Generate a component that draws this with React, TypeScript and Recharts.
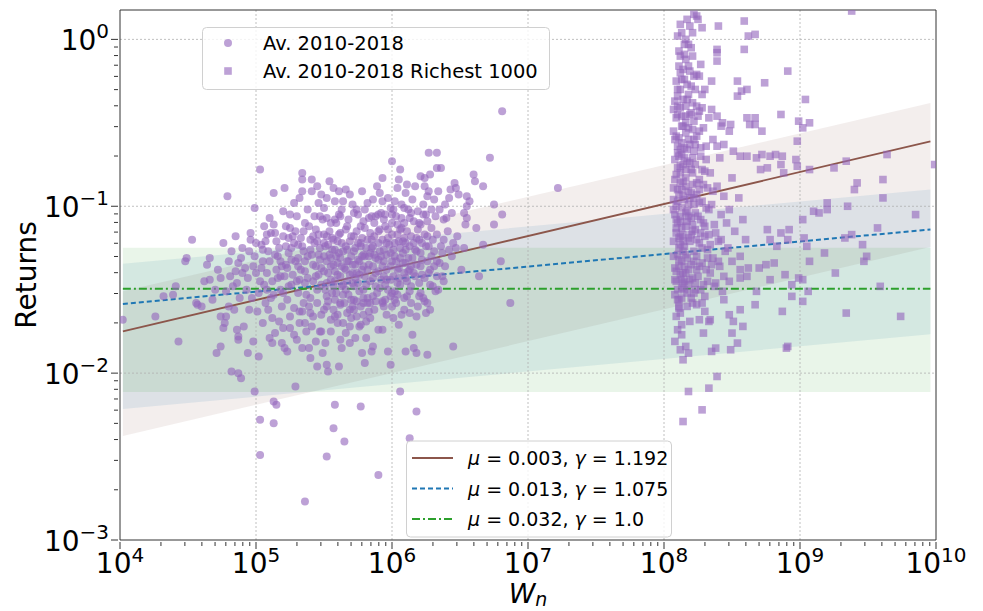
import React from "react";
import {
  ComposedChart,
  XAxis,
  YAxis,
  Scatter,
  Line,
  Area,
  ReferenceLine,
} from "recharts";

// log10(W), log10(return)
const circleLog: [number, number][] = [
  [5.03, -0.78], [4.79, -0.94], [4.99, -1.01], [5.13, -0.92], [5.21, -0.89], [5.34, -0.8], [5.34, -0.84], [5.41, -0.84],
  [5.34, -0.91], [5.41, -0.91], [5.28, -0.98], [5.2, -1.03], [5.1, -1.07], [4.53, -1.2], [4.85, -1.18], [4.76, -1.22],
  [4.96, -1.2], [4.49, -1.31], [4.48, -1.33], [4.66, -1.31], [4.64, -1.35], [4.8, -1.33], [4.87, -1.34], [4.9, -1.25],
  [4.99, -1.3], [5.04, -1.23], [5.05, -1.26], [5.08, -1.17], [5.14, -1.16], [5.13, -1.11], [5.25, -1.13], [5.3, -1.06],
  [5.36, -1.1], [4.66, -1.44], [4.74, -1.43], [4.81, -1.42], [4.85, -1.39], [4.41, -1.48], [4.32, -1.54], [4.39, -1.53],
  [4.56, -1.58], [4.94, -1.43], [4.98, -1.36], [5.03, -1.45], [5.08, -1.4],
  [4.02, -1.68], [4.26, -1.66], [4.43, -1.81], [4.57, -1.59], [4.6, -1.6], [4.74, -1.66], [4.78, -1.66], [4.77, -1.7],
  [4.76, -1.73], [4.86, -1.74], [4.87, -1.78], [4.87, -1.8], [4.74, -1.84], [4.71, -1.88], [4.94, -1.88], [4.98, -1.81],
  [5.02, -1.9], [4.82, -1.99], [4.87, -2.0], [4.89, -2.03], [4.99, -2.11], [5.29, -2.08], [5.13, -2.17], [5.15, -2.19],
  [5.03, -2.28], [5.13, -2.3], [5.03, -2.49], [5.36, -2.77], [5.05, -1.7], [5.12, -1.67], [5.14, -1.76], [5.1, -1.79],
  [5.12, -1.82], [5.19, -1.82], [5.21, -1.85], [5.23, -1.87], [5.2, -1.73], [5.25, -1.73], [5.32, -1.7], [5.3, -1.8],
  [5.34, -1.85], [5.39, -1.85], [5.4, -1.91], [5.45, -1.96], [5.36, -1.7], [5.42, -1.66], [5.47, -1.75],
  [6.81, -0.43], [6.27, -0.68], [6.33, -0.68], [6.72, -0.71], [6.0, -0.73], [6.06, -0.78], [5.93, -0.83], [5.54, -0.85],
  [6.05, -0.84], [6.21, -0.82], [6.24, -0.83], [6.28, -0.81], [6.33, -0.77], [6.36, -0.77], [6.6, -0.81], [6.61, -0.85],
  [6.67, -0.88], [6.46, -0.86], [6.43, -0.9], [6.47, -0.89], [5.57, -0.89], [5.61, -0.91], [5.66, -0.9], [5.91, -0.92],
  [5.93, -0.97], [6.04, -0.89], [6.1, -0.92], [6.17, -0.88], [6.24, -0.88], [6.27, -0.91], [6.26, -0.94], [6.31, -0.96],
  [6.42, -0.95], [6.55, -0.94], [6.57, -0.97], [6.75, -0.99], [6.81, -1.05], [6.75, -1.11], [5.86, -0.96], [5.5, -1.01],
  [5.64, -0.97], [6.55, -1.0], [6.53, -1.04], [6.55, -1.07], [6.54, -1.11], [6.62, -1.13], [6.53, -1.25], [6.67, -1.23],
  [6.8, -1.33], [6.64, -1.42], [6.87, -1.58], [7.22, -0.89],
  [6.37, -1.42], [6.38, -1.45], [6.28, -1.47], [6.32, -1.51], [6.23, -1.55], [6.26, -1.58], [6.13, -1.51], [6.11, -1.54],
  [6.04, -1.53], [5.99, -1.54], [6.21, -1.52], [5.93, -1.57], [6.21, -1.11], [6.26, -1.09], [6.32, -1.06], [6.38, -1.08],
  [6.4, -1.07], [6.13, -1.07], [6.12, -1.02], [6.09, -1.01], [6.01, -1.02], [6.0, -1.1], [6.04, -1.11], [6.09, -1.1],
  [5.99, -1.01], [5.8, -1.02], [5.88, -1.06], [5.94, -1.08], [5.95, -1.12], [5.91, -1.14], [5.72, -1.04], [5.62, -1.06],
  [5.58, -1.08], [5.52, -1.07], [6.18, -1.19], [6.26, -1.18], [6.33, -1.17], [6.38, -1.2], [6.45, -1.22], [6.47, -1.25],
  [6.42, -1.26], [6.37, -1.28], [6.29, -1.3], [6.21, -1.28], [6.17, -1.26], [6.26, -1.33], [6.35, -1.34], [6.31, -1.36],
  [6.21, -1.36], [6.13, -1.38], [6.1, -1.34], [6.06, -1.31], [6.33, -1.42], [5.96, -1.22], [6.01, -1.26], [6.06, -1.25],
  [6.09, -1.19], [6.1, -1.22], [6.04, -1.17], [5.86, -1.24], [5.77, -1.22], [5.83, -1.3], [5.9, -1.32], [5.79, -1.36],
  [5.74, -1.4], [5.67, -1.26], [5.59, -1.3], [5.55, -1.36], [5.62, -1.42], [5.71, -1.46], [5.79, -1.5], [5.86, -1.54],
  [5.72, -1.56], [5.62, -1.58], [5.52, -1.54], [5.57, -1.48], [5.96, -1.38], [5.99, -1.44], [5.94, -1.42], [6.04, -1.46],
  [6.09, -1.4], [5.67, -1.12], [5.72, -1.18], [5.62, -1.16], [5.57, -1.2], [5.52, -1.18], [5.5, -1.22], [5.77, -1.12],
  [5.84, -1.16],
  [6.03, -1.58], [6.24, -1.57], [6.25, -1.64], [6.13, -1.64], [6.07, -1.65], [6.01, -1.67], [5.93, -1.58], [5.94, -1.6],
  [6.15, -1.77], [5.93, -1.74], [5.81, -1.79], [5.86, -1.84], [5.85, -1.87], [5.97, -1.87], [6.1, -1.87], [6.18, -1.88],
  [6.26, -1.89], [6.16, -1.85], [5.78, -1.88], [5.69, -1.82], [5.62, -1.8], [5.8, -1.94], [5.99, -1.95], [5.61, -1.96],
  [5.53, -1.99], [5.52, -1.95], [5.49, -1.88], [5.48, -1.75], [6.45, -1.84], [6.06, -2.11], [5.58, -2.19], [5.77, -2.2],
  [6.18, -2.23], [5.57, -2.33], [5.65, -2.41], [5.52, -2.5], [5.9, -2.61], [6.13, -2.39],
  [5.52, -1.6], [5.57, -1.62], [5.62, -1.59], [5.67, -1.64], [5.72, -1.62], [5.77, -1.6], [5.82, -1.58], [5.55, -1.68],
  [5.6, -1.7], [5.64, -1.7], [5.69, -1.72], [5.74, -1.66], [5.79, -1.65], [5.84, -1.67], [5.77, -1.71],
  [5.22, -1.12], [5.27, -1.18], [5.31, -1.23], [5.35, -1.15], [5.4, -1.2], [5.44, -1.14], [5.47, -1.25], [5.24, -1.28],
  [5.29, -1.33], [5.33, -1.38], [5.38, -1.3], [5.42, -1.35], [5.46, -1.41], [5.21, -1.42], [5.26, -1.47], [5.31, -1.52],
  [5.36, -1.46], [5.4, -1.55], [5.45, -1.5], [5.23, -1.56], [5.28, -1.61], [5.34, -1.63], [5.39, -1.6], [5.18, -1.5],
  [5.15, -1.38], [5.12, -1.45], [5.17, -1.25], [5.19, -1.6], [5.11, -1.55], [5.08, -1.5],
  [5.5, -1.3], [5.53, -1.4], [5.56, -1.26], [5.58, -1.45], [5.6, -1.34], [5.63, -1.22], [5.64, -1.47], [5.66, -1.38],
  [5.68, -1.53], [5.7, -1.3], [5.73, -1.25], [5.75, -1.46], [5.76, -1.33], [5.78, -1.19], [5.8, -1.42], [5.82, -1.55],
  [5.84, -1.28], [5.86, -1.36], [5.88, -1.48], [5.9, -1.22], [5.51, -1.5], [5.54, -1.15], [5.59, -1.1], [5.65, -1.58],
  [5.69, -1.62], [5.71, -1.4], [5.74, -1.57], [5.79, -1.29], [5.83, -1.63], [5.87, -1.1],
  [5.92, -1.3], [5.95, -1.47], [5.97, -1.14], [6.0, -1.33], [6.02, -1.51], [6.05, -1.37], [6.08, -1.28], [6.11, -1.45],
  [6.14, -1.18], [6.16, -1.4], [6.19, -1.6], [6.22, -1.22], [6.24, -1.43], [6.28, -1.38], [6.3, -1.2], [6.34, -1.5],
  [5.0, -1.4], [5.02, -1.52], [5.05, -1.33], [5.07, -1.58], [5.09, -1.27], [4.93, -1.5], [4.95, -1.62], [4.9, -1.4],
  [4.88, -1.55], [4.83, -1.48], [4.8, -1.6], [4.7, -1.5], [4.62, -1.45], [4.68, -1.56],
  [5.25, -1.05], [5.32, -0.95], [5.38, -1.02], [5.43, -1.06], [5.46, -0.98], [5.48, -0.93],
  // dense core
  [5.15, -1.21], [5.18, -1.33], [5.2, -1.18], [5.23, -1.37], [5.26, -1.25], [5.27, -1.41], [5.29, -1.15], [5.31, -1.31],
  [5.32, -1.44], [5.33, -1.19], [5.35, -1.27], [5.36, -1.39], [5.37, -1.53], [5.39, -1.12], [5.41, -1.29], [5.42, -1.45],
  [5.43, -1.22], [5.44, -1.36], [5.45, -1.58], [5.46, -1.17], [5.47, -1.32], [5.48, -1.47], [5.49, -1.08], [5.5, -1.39],
  [5.51, -1.24], [5.52, -1.33], [5.53, -1.57], [5.54, -1.29], [5.55, -1.44], [5.56, -1.19], [5.57, -1.35], [5.58, -1.26],
  [5.59, -1.52], [5.6, -1.41], [5.61, -1.17], [5.62, -1.31], [5.63, -1.48], [5.64, -1.27], [5.65, -1.37], [5.66, -1.14],
  [5.67, -1.45], [5.68, -1.33], [5.69, -1.21], [5.7, -1.56], [5.71, -1.35], [5.72, -1.27], [5.73, -1.43], [5.74, -1.15],
  [5.75, -1.32], [5.76, -1.51], [5.77, -1.24], [5.78, -1.38], [5.79, -1.09], [5.8, -1.3], [5.81, -1.47], [5.82, -1.2],
  [5.83, -1.35], [5.84, -1.58], [5.85, -1.25], [5.86, -1.43], [5.87, -1.18], [5.88, -1.31], [5.89, -1.52], [5.9, -1.39],
  [5.91, -1.27], [5.92, -1.44], [5.93, -1.2], [5.94, -1.33], [5.95, -1.05], [5.96, -1.29], [5.97, -1.5], [5.98, -1.23],
  [5.99, -1.36], [6.0, -1.17], [6.01, -1.42], [6.02, -1.3], [6.03, -1.06], [6.04, -1.38], [6.05, -1.21], [6.06, -1.47],
  [6.07, -1.13], [6.08, -1.34], [6.09, -1.55], [6.1, -1.26], [6.11, -1.15], [6.12, -1.39], [6.13, -1.24], [6.14, -1.48],
  [6.15, -1.31], [6.16, -1.09], [6.17, -1.42], [6.18, -1.27], [6.19, -1.14], [6.2, -1.46], [6.22, -1.32], [6.23, -1.05],
  [6.25, -1.24], [6.27, -1.4], [6.29, -1.13], [6.31, -1.27], [6.33, -1.33], [6.35, -1.02], [6.36, -1.24], [6.39, -1.36],
  [6.41, -1.15], [6.44, -1.3], [6.48, -1.18], [6.51, -1.38],
  [5.45, -0.88], [5.52, -0.95], [5.58, -0.97], [5.63, -1.02], [5.69, -0.93], [5.71, -0.99], [5.75, -1.05], [5.78, -0.91],
  [5.82, -0.98], [5.85, -1.06], [5.89, -0.88], [5.92, -1.04], [5.97, -0.95], [6.02, -0.97], [6.07, -0.99], [6.11, -0.87],
  [6.15, -0.96], [6.19, -1.03], [6.23, -0.99], [6.29, -1.02], [6.34, -0.91], [6.39, -0.99], [6.44, -1.04], [6.49, -0.93],
  [5.25, -1.66], [5.28, -1.77], [5.32, -1.63], [5.37, -1.75], [5.41, -1.72], [5.44, -1.81], [5.48, -1.65], [5.51, -1.82],
  [5.55, -1.75], [5.58, -1.66], [5.63, -1.85], [5.66, -1.76], [5.7, -1.67], [5.73, -1.79], [5.76, -1.72], [5.81, -1.69],
  [5.87, -1.62], [5.9, -1.74], [5.96, -1.65], [6.0, -1.6], [6.05, -1.71], [6.09, -1.62], [6.14, -1.58], [6.18, -1.66],
  [6.2, -1.54], [6.28, -1.62], [6.3, -1.48],
  [4.82, -1.27], [4.86, -1.46], [4.89, -1.31], [4.92, -1.37], [4.95, -1.27], [4.97, -1.55], [5.0, -1.22], [5.01, -1.63],
  [5.04, -1.37], [5.06, -1.47], [5.07, -1.21], [5.09, -1.62], [5.1, -1.33], [5.11, -1.16], [5.13, -1.53], [5.14, -1.29],
  [5.16, -1.43], [5.17, -1.69], [5.19, -1.36], [5.2, -1.52], [5.22, -1.24], [5.24, -1.48], [4.72, -1.38], [4.78, -1.51],
  [4.84, -1.62], [4.91, -1.72], [4.96, -1.16], [5.06, -1.12],
  [5.31, -1.36], [5.34, -1.24], [5.36, -1.33], [5.38, -1.43], [5.4, -1.26], [5.42, -1.18], [5.44, -1.42], [5.46, -1.29],
  [5.48, -1.37], [5.5, -1.17], [5.52, -1.46], [5.53, -1.23], [5.55, -1.31], [5.56, -1.52], [5.58, -1.39], [5.6, -1.21],
  [5.61, -1.28], [5.63, -1.36], [5.64, -1.53], [5.66, -1.24], [5.67, -1.33], [5.69, -1.41], [5.7, -1.18], [5.72, -1.48],
  [5.73, -1.35], [5.75, -1.22], [5.76, -1.41], [5.78, -1.3], [5.79, -1.55], [5.81, -1.25], [5.82, -1.38], [5.84, -1.45],
  [5.85, -1.2], [5.87, -1.29], [5.88, -1.4], [5.9, -1.15], [5.91, -1.49], [5.93, -1.36], [5.94, -1.26], [5.96, -1.44],
  [5.97, -1.19], [5.99, -1.28], [6.0, -1.52], [6.02, -1.22], [6.03, -1.33], [6.05, -1.43], [6.06, -1.14], [6.08, -1.21],
  [6.1, -1.43], [6.12, -1.31], [6.14, -1.36], [6.16, -1.22], [6.18, -1.35], [6.2, -1.2], [6.22, -1.41], [6.24, -1.17],
  [6.27, -1.24], [5.26, -1.32], [5.28, -1.22], [5.3, -1.45], [5.22, -1.35], [5.24, -1.19], [5.18, -1.42], [5.16, -1.3],
  [5.45, -1.21], [5.47, -1.06], [5.55, -1.1], [5.61, -1.05], [5.68, -1.08], [5.74, -1.02], [5.8, -1.13], [5.83, -1.07],
  [5.9, -1.05], [6.0, -1.05], [6.07, -1.07], [6.14, -1.04], [6.2, -1.1], [6.25, -1.05], [5.5, -1.62], [5.58, -1.56],
  [5.66, -1.5], [5.71, -1.6], [5.79, -1.58], [5.88, -1.57], [5.95, -1.56], [6.02, -1.56], [5.6, -1.65], [5.4, -1.64],
  [5.35, -1.58],
];

const squareLog: [number, number][] = [
  [8.22, 0.15], [8.24, 0.14], [9.38, 0.17], [8.12, 0.09], [8.17, 0.12], [8.21, 0.04], [8.13, 0.04], [8.28, 0.07],
  [8.25, 0.12], [8.4, 0.08], [8.59, 0.11], [8.62, 0.02], [8.67, 0.03], [8.15, -0.03], [8.18, -0.03], [8.15, -0.09],
  [8.21, -0.1], [8.39, -0.06], [8.39, -0.08], [8.39, -0.13], [8.59, -0.06], [8.12, -0.1], [8.18, -0.16], [8.27, -0.15],
  [8.11, -0.16], [8.19, -0.19], [8.13, -0.24], [8.22, -0.22], [8.24, -0.21], [8.35, -0.25], [8.3, -0.3], [8.28, -0.33],
  [8.54, -0.25], [8.57, -0.31], [8.61, -0.3], [8.54, -0.34], [8.74, -0.26], [8.91, -0.19], [9.04, -0.36], [8.1, -0.34],
  [8.1, -0.4], [8.16, -0.4], [8.19, -0.45], [8.13, -0.46], [8.28, -0.41], [8.35, -0.42], [8.26, -0.43], [8.33, -0.47],
  [8.43, -0.5], [8.42, -0.52], [8.49, -0.51], [8.48, -0.55], [8.39, -0.46], [8.61, -0.47], [8.67, -0.47], [8.63, -0.51],
  [8.67, -0.51], [8.72, -0.55], [8.86, -0.45], [8.99, -0.49], [9.07, -0.5], [9.02, -0.53], [8.98, -0.61],
  [8.39, -0.64], [8.44, -0.63], [8.51, -0.67], [8.56, -0.7], [8.61, -0.7], [8.68, -0.71], [8.72, -0.69], [8.78, -0.7],
  [8.82, -0.69], [8.87, -0.7], [8.71, -0.78], [8.76, -0.77], [8.86, -0.75], [8.88, -0.8], [8.97, -0.72], [8.98, -0.76],
  [9.07, -0.78], [9.25, -0.77], [9.34, -0.73], [9.64, -0.69], [9.61, -0.84], [9.61, -0.95], [9.42, -0.86], [9.4, -0.9],
  [9.2, -0.98], [9.35, -1.0], [9.85, -1.05], [9.57, -1.13], [9.38, -1.17], [9.33, -1.19], [9.46, -1.23], [9.99, -0.75],
  [9.1, -1.03], [9.14, -1.04], [9.2, -1.02], [9.02, -1.08], [8.92, -1.14], [8.86, -1.16], [8.76, -1.14], [8.78, -1.2],
  [8.83, -1.24], [8.91, -1.2], [9.03, -1.19], [9.05, -1.24],
  [9.07, -1.33], [9.47, -1.33], [9.49, -1.3], [9.26, -1.4], [9.18, -1.28], [8.89, -1.41], [8.94, -1.47], [9.02, -1.44],
  [8.99, -1.43], [9.06, -1.51], [9.02, -1.57], [8.94, -1.54], [8.87, -1.63], [8.68, -1.51], [8.67, -1.59], [9.34, -1.64],
  [9.59, -1.48], [9.74, -1.66], [8.78, -1.44], [8.81, -1.34], [8.75, -1.35], [8.7, -1.37], [8.62, -1.37], [8.56, -1.38],
  [8.61, -1.42], [8.56, -1.43], [8.48, -1.45], [8.44, -1.56], [8.48, -1.65], [8.56, -1.62], [8.51, -1.69], [8.58, -1.72],
  [8.5, -1.76], [8.54, -1.82], [8.49, -1.86], [8.38, -1.85], [8.35, -1.87], [8.29, -1.76], [8.34, -1.68], [8.33, -1.69],
  [8.26, -1.68], [8.19, -1.69], [8.13, -1.71], [8.13, -1.77], [8.12, -1.86], [8.16, -1.84], [8.18, -1.88], [8.14, -1.92],
  [8.91, -1.84], [8.9, -1.85], [8.39, -2.02], [8.33, -2.09], [8.18, -2.11], [8.28, -2.22], [8.14, -2.29], [8.3, -1.63],
  [8.24, -1.59], [8.28, -1.58], [8.22, -1.52], [8.11, -1.56], [8.11, -1.6], [8.12, -1.64],
  // dense column just above 10^8
  [8.08, -0.37], [8.12, -0.41], [8.09, -0.47], [8.14, -0.52], [8.07, -0.55], [8.11, -0.59], [8.1, -0.64], [8.13, -0.69],
  [8.08, -0.72], [8.12, -0.76], [8.09, -0.81], [8.14, -0.85], [8.07, -0.89], [8.11, -0.93], [8.1, -0.97], [8.13, -1.01],
  [8.08, -1.05], [8.12, -1.09], [8.09, -1.13], [8.14, -1.17], [8.07, -1.21], [8.11, -1.25], [8.1, -1.29], [8.13, -1.33],
  [8.08, -1.37], [8.12, -1.41], [8.09, -1.45], [8.13, -1.49], [8.08, -1.53], [8.11, -1.61], [8.09, -1.66], [8.1, -1.74],
  [8.08, -1.81],
  [8.17, -0.36], [8.2, -0.44], [8.16, -0.5], [8.21, -0.54], [8.18, -0.6], [8.15, -0.65], [8.22, -0.67], [8.17, -0.73],
  [8.2, -0.78], [8.16, -0.83], [8.21, -0.87], [8.18, -0.91], [8.15, -0.96], [8.22, -0.99], [8.17, -1.03], [8.2, -1.07],
  [8.16, -1.12], [8.21, -1.15], [8.18, -1.19], [8.15, -1.24], [8.22, -1.27], [8.17, -1.31], [8.2, -1.35], [8.16, -1.4],
  [8.21, -1.43], [8.18, -1.47], [8.15, -1.5], [8.2, -1.55], [8.17, -1.6],
  [8.25, -0.46], [8.29, -0.53], [8.24, -0.58], [8.31, -0.64], [8.27, -0.7], [8.23, -0.75], [8.3, -0.79], [8.26, -0.84],
  [8.32, -0.89], [8.24, -0.93], [8.28, -0.97], [8.31, -1.01], [8.25, -1.06], [8.29, -1.1], [8.23, -1.14], [8.3, -1.18],
  [8.26, -1.22], [8.32, -1.26], [8.24, -1.3], [8.28, -1.34], [8.31, -1.38], [8.25, -1.42], [8.29, -1.47], [8.23, -1.5],
  [8.3, -1.54],
  [8.36, -0.6], [8.41, -0.71], [8.34, -0.8], [8.39, -0.88], [8.44, -0.94], [8.35, -0.99], [8.42, -1.05], [8.37, -1.11],
  [8.33, -1.17], [8.4, -1.21], [8.45, -1.27], [8.36, -1.31], [8.41, -1.36], [8.34, -1.4], [8.38, -1.46], [8.43, -1.51],
  [8.5, -0.83], [8.55, -0.95], [8.48, -1.02], [8.58, -1.08], [8.52, -1.15], [8.47, -1.25], [8.56, -1.3], [8.6, -1.2],
  [8.5, -1.33],
  [8.1, -0.45], [8.13, -0.62], [8.16, -0.78], [8.19, -0.95], [8.1, -1.1], [8.14, -1.27], [8.19, -1.44], [8.12, -0.86],
  [8.09, -1.0], [8.15, -1.36], [8.21, -0.71], [8.12, -1.18], [8.18, -1.06], [8.1, -0.68], [8.16, -0.56], [8.14, -1.46],
  [8.26, -0.9], [8.27, -1.16], [8.24, -1.38], [8.22, -0.6],
  [8.1, -0.3], [8.14, -0.36], [8.2, -0.28], [8.24, -0.4], [8.12, -0.2], [8.16, -0.12],
  [8.07, -0.42], [8.09, -0.58], [8.11, -0.7], [8.08, -0.84], [8.1, -0.9], [8.07, -1.02], [8.09, -1.16], [8.11, -1.32],
  [8.08, -1.44], [8.1, -1.56], [8.13, -0.52], [8.12, -0.8], [8.14, -0.94], [8.13, -1.13], [8.12, -1.23], [8.14, -1.4],
  [8.13, -1.55], [8.16, -0.46], [8.18, -0.53], [8.17, -0.66], [8.19, -0.74], [8.16, -0.88], [8.18, -0.99], [8.17, -1.09],
  [8.19, -1.21], [8.16, -1.29], [8.18, -1.38], [8.17, -1.52], [8.19, -0.63], [8.15, -0.71], [8.2, -0.92], [8.16, -1.04],
  [8.2, -1.17], [8.15, -1.45], [8.22, -0.49], [8.23, -0.63], [8.21, -0.8], [8.24, -0.86], [8.22, -0.95], [8.23, -1.04],
  [8.21, -1.11], [8.24, -1.2], [8.22, -1.33], [8.23, -1.46], [8.21, -1.58], [8.26, -0.55], [8.27, -0.65], [8.28, -0.78],
  [8.26, -0.98], [8.27, -1.08], [8.28, -1.25], [8.26, -1.36], [8.27, -1.5], [8.29, -0.87], [8.3, -1.12], [8.32, -1.31],
  [8.31, -0.72], [8.33, -1.02], [8.34, -1.23], [8.35, -1.35], [8.36, -0.91], [8.38, -1.16], [8.4, -1.33], [8.42, -1.2],
  [8.44, -1.42], [8.46, -1.1], [8.37, -1.48], [8.32, -1.45], [8.08, -0.6], [8.1, -0.77], [8.07, -0.96], [8.09, -1.08],
  [8.11, -1.19], [8.07, -1.3], [8.09, -1.39], [8.1, -1.5], [8.12, -0.66], [8.14, -0.75], [8.13, -0.9], [8.12, -1.06],
  [8.14, -1.21], [8.11, -1.36], [8.13, -1.44], [8.09, -0.25], [8.12, -0.3], [8.15, -0.24], [8.18, -0.33], [8.21, -0.38],
  [8.11, -0.07], [8.14, -0.18], [8.17, -0.27], [8.2, -0.05], [8.23, -0.3], [8.26, -0.22], [8.1, 0.02], [8.19, 0.08],
  [8.16, 0.0],
];

// fitted lines and bands, at both ends of the W range
const fitW = [1.05e4, 9.1e9];
const brownFit = [0.0178, 0.245];
const brownLo = [0.0042, 0.057];
const brownHi = [0.031, 0.415];
const blueFit = [0.026, 0.0726];
const blueLo = [0.0061, 0.0171];
const blueHi = [0.0452, 0.126];
const greenFit = [0.032, 0.032];
const greenLo = [0.0077, 0.0077];
const greenHi = [0.0564, 0.0564];

const xMajor = [1e4, 1e5, 1e6, 1e7, 1e8, 1e9, 1e10];
const yMajor = [1e-3, 1e-2, 1e-1, 1e0];
const minorSteps = [2, 3, 4, 5, 6, 7, 8, 9];

const PURPLE = "#9467bd";
const FONT = "'DejaVu Sans', sans-serif";

const circleRows = circleLog.map(([lw, lr]) => ({ w: 10 ** lw, r: 10 ** lr }));
const squareRows = squareLog.map(([lw, lr]) => ({ w: 10 ** lw, r: 10 ** lr }));
const fitRows = fitW.map((w, i) => ({
  w,
  brown: brownFit[i],
  blue: blueFit[i],
  green: greenFit[i],
  brownBand: [brownLo[i], brownHi[i]],
  blueBand: [blueLo[i], blueHi[i]],
  greenBand: [greenLo[i], greenHi[i]],
}));

const withMinors = (major: number[]) => {
  const out: number[] = [...major];
  major.slice(0, -1).forEach((m) => minorSteps.forEach((s) => out.push(m * s)));
  return out.sort((a, b) => a - b);
};
const xTicks = withMinors(xMajor);
const yTicks = withMinors(yMajor).filter((v) => v <= 1.5);

const isMajor = (v: number) => Math.abs(Math.log10(v) - Math.round(Math.log10(v))) < 1e-6;
const expText = (v: number) => {
  const e = Math.round(Math.log10(v));
  return e < 0 ? "\u2212" + -e : String(e);
};

function XTick(props: any) {
  const { x, y, payload } = props;
  const major = isMajor(payload.value);
  return (
    <g>
      <line x1={x} x2={x} y1={y} y2={y + (major ? 7 : 4)} stroke="#333" strokeWidth={1} />
      {major && (
        <text x={x} y={y + 31} textAnchor="middle" fontFamily={FONT} fontSize={28} fill="#000">
          <tspan>10</tspan>
          <tspan fontSize={20} dy={-11}>{expText(payload.value)}</tspan>
        </text>
      )}
    </g>
  );
}

function YTick(props: any) {
  const { x, y, payload } = props;
  const major = isMajor(payload.value);
  return (
    <g>
      <line x1={x} x2={x - (major ? 7 : 4)} y1={y} y2={y} stroke="#333" strokeWidth={1} />
      {major && (
        <text x={x - 9} y={y + 11} textAnchor="end" fontFamily={FONT} fontSize={28} fill="#000">
          <tspan>10</tspan>
          <tspan fontSize={20} dy={-12}>{expText(payload.value)}</tspan>
        </text>
      )}
    </g>
  );
}

const CircleDot = (p: any) => (
  <circle cx={p.cx} cy={p.cy} r={4} fill={PURPLE} fillOpacity={0.62} />
);
const SquareDot = (p: any) => (
  <rect x={p.cx - 3.8} y={p.cy - 3.8} width={7.6} height={7.6} fill={PURPLE} fillOpacity={0.62} />
);

const fitLegend = [
  { mu: "0.003", gamma: "1.192", color: "#8c564b", dash: undefined },
  { mu: "0.013", gamma: "1.075", color: "#1f77b4", dash: "5 3" },
  { mu: "0.032", gamma: "1.0", color: "#2ca02c", dash: "8 3 2 3" },
];

export default function App() {
  return (
    <div style={{ position: "absolute", left: 0, top: 0, width: 983, height: 611, background: "#fff" }}>
      <ComposedChart
        width={983}
        height={611}
        data={fitRows}
        margin={{ top: 10, right: 47, bottom: 0, left: 0 }}
      >
        <XAxis
          type="number"
          dataKey="w"
          scale="log"
          domain={[1e4, 1e10]}
          ticks={xTicks}
          interval={0}
          tickSize={0}
          tick={(p: any) => <XTick {...p} />}
          height={71}
          stroke="#333"
          allowDataOverflow
          label={{
            content: (p: any) => (
              <text
                x={p.viewBox.x + p.viewBox.width / 2}
                y={603}
                textAnchor="middle"
                fontFamily={FONT}
                fontSize={27}
                fontStyle="italic"
              >
                <tspan>W</tspan>
                <tspan fontSize={19} dy={3}>n</tspan>
              </text>
            ),
          }}
        />
        <YAxis
          type="number"
          dataKey="r"
          scale="log"
          domain={[1e-3, 1.5]}
          ticks={yTicks}
          interval={0}
          tickSize={0}
          tick={(p: any) => <YTick {...p} />}
          width={120}
          stroke="#333"
          allowDataOverflow
          label={{
            content: (p: any) => (
              <text
                x={36}
                y={p.viewBox.y + p.viewBox.height / 2}
                transform={`rotate(-90 36 ${p.viewBox.y + p.viewBox.height / 2})`}
                textAnchor="middle"
                fontFamily={FONT}
                fontSize={28}
              >
                Returns
              </text>
            ),
          }}
        />
        {xMajor.slice(1, -1).map((v) => (
          <ReferenceLine key={"gx" + v} x={v} stroke="#b0b0b0" strokeWidth={0.8} strokeDasharray="2 2" />
        ))}
        {yMajor.slice(1).map((v) => (
          <ReferenceLine key={"gy" + v} y={v} stroke="#b0b0b0" strokeWidth={0.8} strokeDasharray="2 2" />
        ))}
        <ReferenceLine x={1e10} stroke="#333" strokeWidth={1} />
        <ReferenceLine y={1.5} stroke="#333" strokeWidth={1} />
        <Scatter data={circleRows} shape={CircleDot} isAnimationActive={false} />
        <Scatter data={squareRows} shape={SquareDot} isAnimationActive={false} />
        <Area type="linear" dataKey="brownBand" fill="#8c564b" fillOpacity={0.1} stroke="none" isAnimationActive={false} />
        <Area type="linear" dataKey="blueBand" fill="#1f77b4" fillOpacity={0.1} stroke="none" isAnimationActive={false} />
        <Area type="linear" dataKey="greenBand" fill="#2ca02c" fillOpacity={0.1} stroke="none" isAnimationActive={false} />
        <Line type="linear" dataKey="brown" stroke="#8c564b" strokeWidth={1.8} dot={false} isAnimationActive={false} />
        <Line type="linear" dataKey="blue" stroke="#1f77b4" strokeWidth={2} strokeDasharray="5 3" dot={false} isAnimationActive={false} />
        <Line type="linear" dataKey="green" stroke="#2ca02c" strokeWidth={2} strokeDasharray="8 3 2 3" dot={false} isAnimationActive={false} />
      </ComposedChart>
      <svg width={983} height={611} style={{ position: "absolute", left: 0, top: 0, pointerEvents: "none" }}>
        <rect x={202.5} y={27.5} width={347} height={62} rx={4} fill="#fff" fillOpacity={0.8} stroke="#d0d0d0" />
        <circle cx={228} cy={43} r={4} fill={PURPLE} fillOpacity={0.62} />
        <text x={263} y={50} fontFamily={FONT} fontSize={19.5}>Av. 2010-2018</text>
        <rect x={224.2} y={67.2} width={7.6} height={7.6} fill={PURPLE} fillOpacity={0.62} />
        <text x={263} y={78} fontFamily={FONT} fontSize={19.5}>Av. 2010-2018 Richest 1000</text>
        <rect x={406.5} y={441} width={265} height={96} rx={4} fill="#fff" fillOpacity={0.8} stroke="#d0d0d0" />
        {fitLegend.map((f, i) => {
          const cy = 458 + i * 30.5;
          return (
            <g key={f.mu}>
              <line x1={412} x2={453} y1={cy} y2={cy} stroke={f.color} strokeWidth={2} strokeDasharray={f.dash} />
              <text x={468} y={cy + 7} fontFamily={FONT} fontSize={19}>
                <tspan fontStyle="italic">μ</tspan>
                <tspan>{" = " + f.mu + ", "}</tspan>
                <tspan fontStyle="italic">γ</tspan>
                <tspan>{" = " + f.gamma}</tspan>
              </text>
            </g>
          );
        })}
      </svg>
    </div>
  );
}
